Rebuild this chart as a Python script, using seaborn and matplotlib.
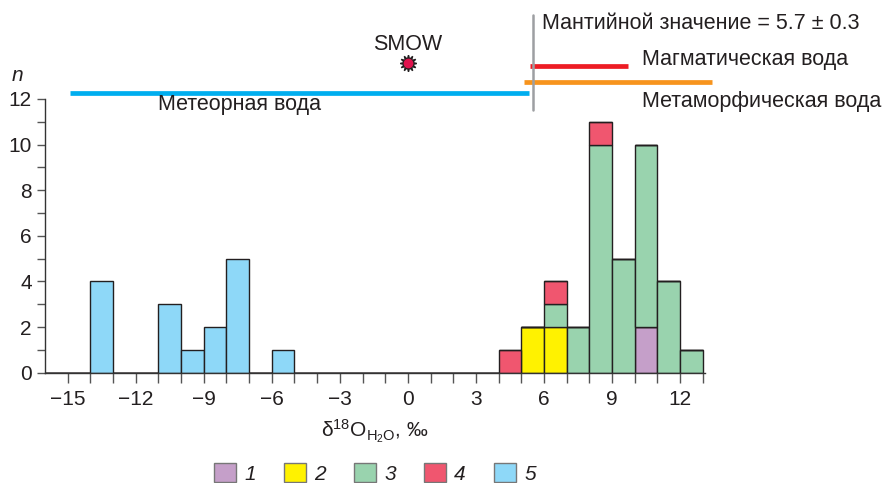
import numpy as np
import pandas as pd
import matplotlib.pyplot as plt
import seaborn as sns
from matplotlib.patches import Patch

# left edges of 1-permille bins and counts for every group
bins_1 = [10]
counts_1 = [2]
bins_2 = [5, 6]
counts_2 = [2, 2]
bins_3 = [6, 7, 8, 9, 10, 11, 12]
counts_3 = [1, 2, 10, 5, 8, 4, 1]
bins_4 = [4, 6, 8]
counts_4 = [1, 1, 1]
bins_5 = [-14, -11, -10, -9, -8, -6]
counts_5 = [4, 3, 1, 2, 5, 1]

groups = ['1', '2', '3', '4', '5']
colors = ['#c59fc9', '#fff200', '#99d3ae', '#f0566f', '#8ed8f8']

# water source ranges drawn above the histogram
meteoric = [-14.9, 5.35]
magmatic = [5.4, 9.7]
metamorphic = [5.1, 13.4]
mantle = 5.5
smow = 0

rows = []
for g, b, c in zip(groups, [bins_1, bins_2, bins_3, bins_4, bins_5],
                   [counts_1, counts_2, counts_3, counts_4, counts_5]):
    for left, n in zip(b, c):
        rows.append((left + 0.5, n, g))
df = pd.DataFrame(rows, columns=['d18O', 'n', 'group'])

sns.set_style('ticks')
plt.rcParams['font.family'] = ['Liberation Sans', 'DejaVu Sans']
plt.rcParams['font.size'] = 15.5
plt.rcParams['mathtext.fontset'] = 'custom'
plt.rcParams['mathtext.rm'] = 'Liberation Sans'
plt.rcParams['mathtext.it'] = 'Liberation Sans:italic'
txt = '#231f20'

fig = plt.figure(figsize=(8.82, 4.83), dpi=100)
ax = fig.add_axes([45 / 882, 1 - 372.7 / 483, 660 / 882, 372.7 / 483])

# first hue level ends up on top when stacking, so reverse the order
sns.histplot(data=df, x='d18O', weights='n', hue='group', hue_order=groups[::-1],
             palette=dict(zip(groups, colors)), multiple='stack',
             binwidth=1, binrange=(-16, 13), edgecolor=txt, linewidth=1.0, alpha=1,
             legend=False, ax=ax)

ax.set_xlim(-16, 13.1)
ax.set_ylim(0, 16.34)
ax.spines[['top', 'right']].set_visible(False)
ax.spines['left'].set_bounds(0, 12)
for s in ['left', 'bottom']:
    ax.spines[s].set_color('#333333')
    ax.spines[s].set_linewidth(1.0)

ax.set_yticks(range(0, 13, 2))
ax.set_yticks(range(1, 12, 2), minor=True)
ax.set_xticks(range(-15, 13, 3))
ax.set_xticks(range(-15, 14), minor=True)
ax.tick_params(which='both', direction='out', color='#555555', width=1.0,
               labelcolor=txt, labelsize=15)
ax.tick_params(axis='x', which='both', length=7.5, pad=5)
ax.tick_params(axis='y', which='both', length=6, pad=3.5)
ax.set_ylabel('')
ax.set_xlabel('δ$^{18}$O$_{\\mathrm{H_2O}}$, ‰', color=txt, labelpad=6, fontsize=15)
ax.text(-17.2, 13.05, 'n', style='italic', ha='center', va='center', color=txt, fontsize=15)

# source ranges
ax.plot(meteoric, [12.25, 12.25], color='#00aeef', lw=3.4, solid_capstyle='butt', clip_on=False)
ax.plot(metamorphic, [12.73, 12.73], color='#f7941d', lw=3.4, solid_capstyle='butt', clip_on=False)
ax.plot(magmatic, [13.46, 13.46], color='#ed1c24', lw=3.4, solid_capstyle='butt', clip_on=False)
ax.plot([mantle, mantle], [11.5, 15.7], color='#9d9fa2', lw=1.8, clip_on=False)
ax.plot([smow], [13.56], marker=(12, 1, 0), ms=12, color=txt, clip_on=False)
ax.plot([smow], [13.56], marker='o', ms=6, color='#e0124d', mec='#e0124d', clip_on=False)

ax.text(smow, 14.4, 'SMOW', ha='center', va='center', color=txt)
ax.text(5.93, 15.3, 'Мантийной значение = 5.7 ± 0.3', ha='left', va='center', color=txt)
ax.text(10.33, 13.71, 'Магматическая вода', ha='left', va='center', color=txt)
ax.text(10.33, 11.87, 'Метаморфическая вода', ha='left', va='center', color=txt)
ax.text(-11.03, 11.78, 'Метеорная вода', ha='left', va='center', color=txt)

handles = [Patch(facecolor=c, edgecolor='#777777', linewidth=1.0) for c in colors]
fig.legend(handles, groups, loc='upper center', bbox_to_anchor=(375 / 882, 20 / 483),
           ncol=5, frameon=False, prop={'style': 'italic', 'size': 15},
           handlelength=1.05, handleheight=1.05, handletextpad=0.4,
           columnspacing=1.35, borderpad=0, borderaxespad=0, labelcolor=txt)

fig.savefig('out.png', dpi=100)
